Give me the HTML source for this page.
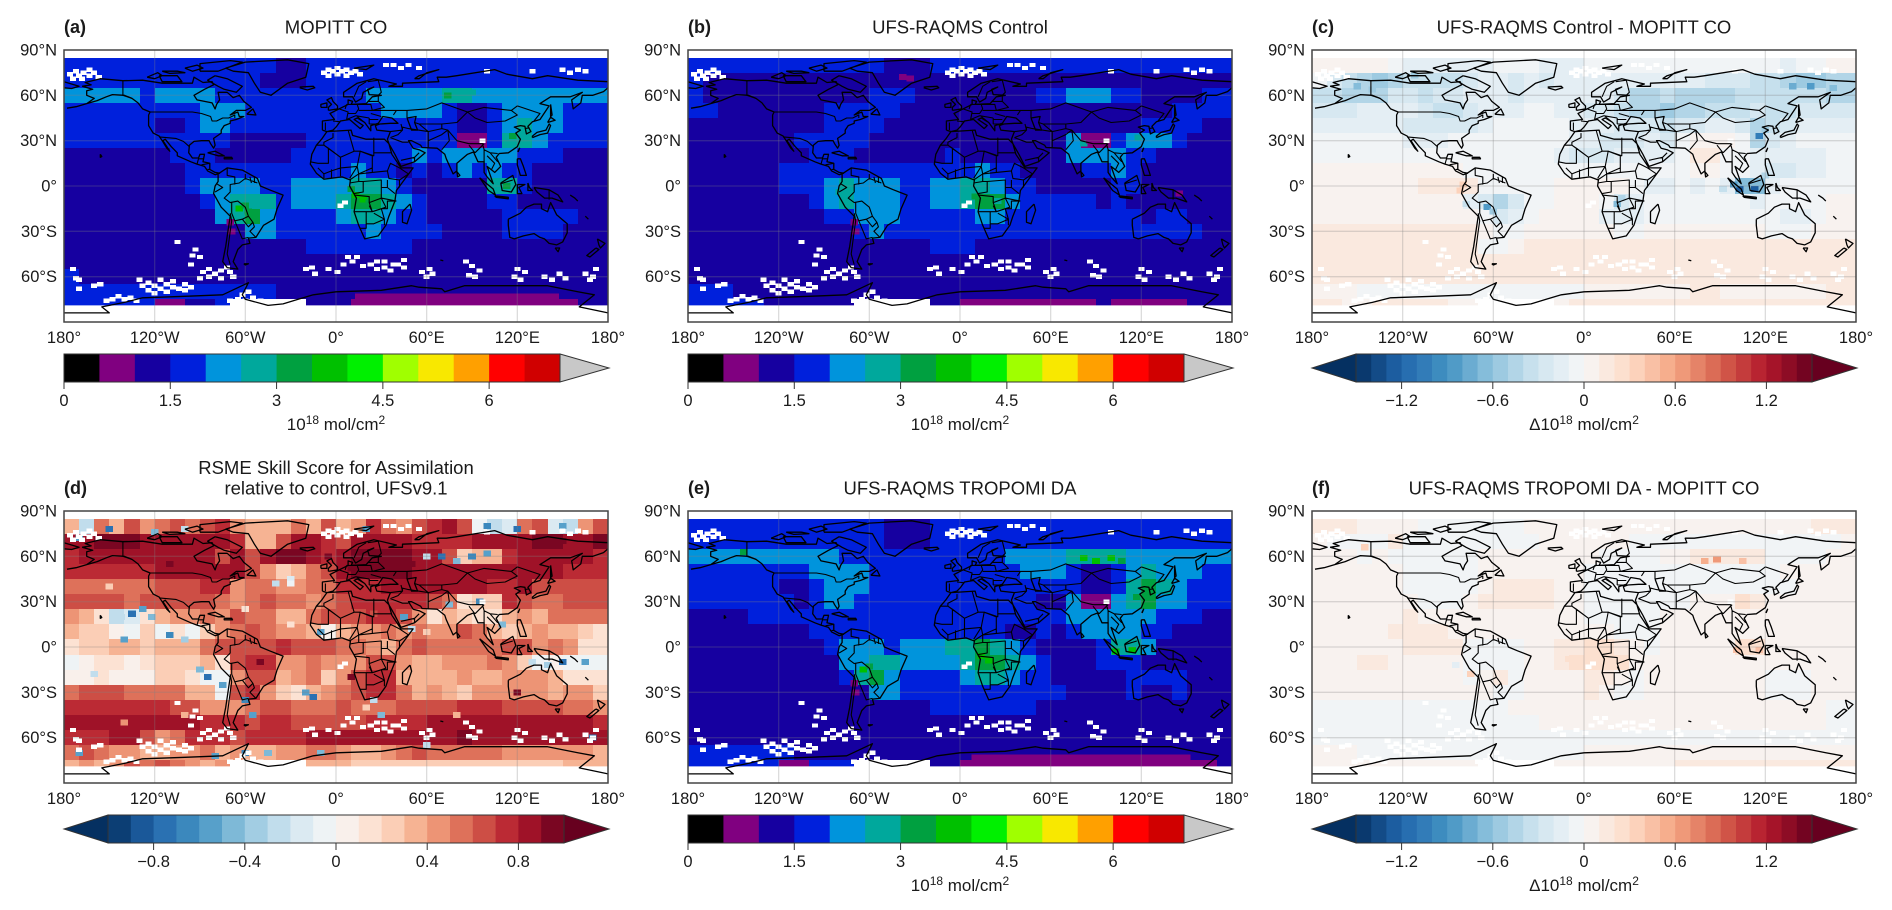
<!DOCTYPE html>
<html lang="en">
<head>
<meta charset="utf-8">
<title>CO column maps</title>
<style>
html,body{margin:0;padding:0;background:#fff;width:1892px;height:910px;overflow:hidden}
svg{display:block}
text{font-family:"Liberation Sans",sans-serif;fill:#1a1a1a}
.tick{font-size:16.5px}
.title{font-size:18.5px}
.tag{font-size:18px;font-weight:bold}
.unit{font-size:17px}
.sup{font-size:12px}
</style>
</head>
<body>
<svg id="figure" xmlns="http://www.w3.org/2000/svg" width="1892" height="910" viewBox="0 0 1892 910">
<defs id="defs"></defs>
</svg>
<script>
// ---- axes ----
const lonTicks = [-180,-120,-60,0,60,120,180];
const lonTickLabels = ["180°","120°W","60°W","0°","60°E","120°E","180°"];
const latTicks = [90,60,30,0,-30,-60];
const latTickLabels = ["90°N","60°N","30°N","0°","30°S","60°S"];
const lonCols = [-175,-165,-155,-145,-135,-125,-115,-105,-95,-85,-75,-65,-55,-45,-35,-25,-15,-5,5,15,25,35,45,55,65,75,85,95,105,115,125,135,145,155,165,175];
const latRows = [80,70,60,50,40,30,20,10,0,-10,-20,-30,-40,-50,-60,-70,-80];

// ---- colour bars ----
const coLevels = [0,5,10,15,20,25,30,35,40,45,50,55,60,65,70];
const coColors = ["#000000","#800080","#1600a0","#0020dc","#0094dc","#00a89c","#00a040","#00c000","#00f000","#a0ff00","#f8e800","#ffa000","#ff0000","#d00000"];
const coTicks = [0,1.5,3,4.5,6];
const coTickLabels = ["0","1.5","3","4.5","6"];
const diffTicks = [-1.2,-0.6,0,0.6,1.2];
const diffTickLabels = ["−1.2","−0.6","0","0.6","1.2"];
const skillTicks = [-0.8,-0.4,0,0.4,0.8];
const skillTickLabels = ["−0.8","−0.4","0","0.4","0.8"];

// ---- panel (a) MOPITT CO, 10^17 mol/cm2 ----
const gridA = [
[17,17,17,17,17,17, 17,17,17,17,17,17, 17,17,12,12,17,17, 17,17,17,17,17,17, 17,17,17,17,17,17, 17,17,17,17,17,17],
[17,17,17,17,17,17, 17,17,17,17,17,17, 17,12,12,12,17,17, 17,17,17,17,17,17, 17,17,17,17,17,17, 17,17,17,17,17,17],
[22,22,22,22,22,17, 22,22,22,22,17,17, 17,17,17,17,17,17, 17,17,22,22,22,22, 22,27,27,22,22,22, 22,22,22,22,22,22],
[17,17,17,17,17,17, 17,17,17,22,22,22, 17,17,17,17,17,17, 17,17,17,22,22,22, 22,17,12,12,17,22, 22,22,22,17,17,17],
[17,17,17,17,17,17, 12,12,17,22,22,17, 17,17,17,17,17,17, 17,17,17,17,17,17, 17,17,12,12,17,22, 27,22,22,17,17,17],
[17,17,17,17,17,17, 17,17,17,17,17,12, 12,12,12,12,17,17, 17,17,17,17,17,17, 17,17,7,7,17,27, 27,22,17,17,17,17],
[12,12,12,12,12,12, 12,17,17,17,12,12, 12,12,12,17,17,17, 17,17,17,17,17,22, 17,22,22,22,22,22, 17,17,17,12,12,12],
[12,12,12,12,12,12, 12,12,17,17,17,17, 17,17,17,17,17,17, 17,22,17,17,12,17, 12,17,22,17,22,17, 17,12,12,12,12,12],
[12,12,12,12,12,12, 12,12,17,22,22,22, 22,17,17,22,22,22, 22,27,27,22,17,12, 12,12,12,12,27,27, 17,12,12,12,12,12],
[12,12,12,12,12,12, 12,12,12,17,22,27, 27,27,17,22,22,22, 27,32,32,27,22,17, 12,12,12,12,17,17, 12,12,12,12,12,12],
[12,12,12,12,12,12, 12,12,12,12,22,27, 32,22,17,17,17,17, 22,27,27,22,17,17, 12,12,12,12,12,17, 17,17,17,17,12,12],
[12,12,12,12,12,12, 12,12,12,12,12,12, 22,22,17,17,17,17, 17,17,22,17,17,17, 17,12,12,12,12,17, 17,17,17,12,12,12],
[12,12,12,12,12,12, 12,12,12,12,12,12, 12,12,12,12,17,17, 17,17,17,17,17,12, 12,12,12,12,12,12, 12,12,12,12,12,12],
[12,12,12,12,12,12, 12,12,12,12,12,12, 12,12,12,12,12,12, 12,12,12,12,12,12, 12,12,12,12,12,12, 12,12,12,12,12,12],
[17,12,12,12,12,12, 12,12,12,12,12,12, 12,12,12,12,12,12, 12,12,12,12,12,12, 12,12,12,12,12,12, 12,12,12,12,12,12],
[17,17,17,17,17,17, 17,17,17,17,17,17, 17,17,12,12,12,12, 12,12,12,12,12,12, 12,12,12,12,12,12, 12,12,12,12,12,12],
[17,17,17,17,17,17, 7,7,12,12,17,null, null,null,null,null,12,12, 12,7,7,7,7,7, 7,7,7,7,7,7, 7,7,7,7,12,12]
];
const fineA = [[-64,-15,37],[-60,-13,32],[-58,-17,32],[13,-6,37],[18,-9,37],[22,-11,32],[10,-2,32],[113,0,32],[103,1,27],[117,33,32],[74,60,32],[90,62,27],[-70,-24,7],[-69,-30,7],[15,-73,7],[20,-73,7],[25,-73,7],[30,-73,7],[35,-73,7],[40,-73,7],[45,-73,7],[50,-73,7],[55,-73,7],[60,-73,7],[65,-73,7],[70,-73,7],[75,-73,7],[80,-73,7],[85,-73,7],[90,-73,7],[95,-73,7],[100,-73,7],[105,-73,7],[110,-73,7],[115,-73,7],[120,-73,7],[125,-73,7],[130,-73,7],[135,-73,7],[140,-73,7],[145,-73,7]];

// ---- panel (b) UFS-RAQMS Control ----
const gridB = [
[17,17,17,17,17,17, 17,17,17,17,17,17, 17,12,12,12,17,17, 17,17,17,17,17,17, 17,17,17,17,17,17, 17,17,17,17,17,17],
[17,12,12,12,12,12, 12,12,12,12,12,12, 12,12,12,12,12,12, 12,12,12,12,12,12, 12,12,12,12,12,12, 12,12,12,12,12,12],
[17,12,12,12,12,12, 12,12,12,12,12,12, 17,17,17,12,12,12, 12,12,12,12,12,17, 17,22,22,22,17,17, 12,12,12,12,17,17],
[17,17,12,12,12,12, 12,12,12,17,17,17, 17,17,12,12,12,12, 12,12,12,12,12,12, 12,12,12,12,12,12, 12,12,17,17,17,17],
[12,12,12,12,12,12, 12,12,12,17,17,17, 17,12,12,12,12,12, 12,12,12,12,12,12, 12,12,12,12,12,12, 17,17,17,17,12,12],
[12,12,12,12,12,12, 12,17,17,17,17,17, 12,12,12,12,12,12, 12,12,12,12,12,12, 12,22,7,7,17,22, 22,22,17,12,12,12],
[12,12,12,12,12,12, 12,12,17,17,17,12, 12,12,12,12,12,17, 12,12,12,12,12,12, 12,22,22,22,22,17, 17,12,12,12,12,12],
[12,12,12,12,12,12, 17,17,17,17,17,17, 17,17,17,17,17,17, 17,22,17,17,12,12, 12,12,17,17,22,17, 12,12,12,12,12,12],
[12,12,12,12,12,12, 17,17,17,22,27,22, 22,22,17,17,22,22, 27,27,22,17,17,12, 12,12,12,12,17,17, 12,12,12,12,12,12],
[12,12,12,12,12,12, 12,12,17,22,27,22, 22,22,17,17,22,22, 27,32,32,22,17,17, 17,17,17,12,17,12, 12,12,12,12,12,12],
[12,12,12,12,12,12, 12,12,12,17,17,22, 22,22,17,17,17,17, 17,22,22,17,17,17, 17,17,17,17,17,17, 12,17,17,12,12,12],
[12,12,12,12,12,12, 12,12,12,12,12,17, 22,17,17,17,17,17, 17,17,17,17,17,17, 17,17,17,17,17,17, 17,17,17,17,12,12],
[12,12,12,12,12,12, 12,12,12,12,12,12, 12,12,12,12,17,17, 17,12,12,12,12,12, 12,12,12,12,12,12, 12,12,12,12,12,12],
[12,12,12,12,12,12, 12,12,12,12,12,12, 12,12,12,12,12,12, 12,12,12,12,12,12, 12,12,12,12,12,12, 12,12,12,12,12,12],
[12,12,12,12,12,12, 12,12,12,12,12,12, 12,12,12,12,12,12, 12,12,12,12,12,12, 12,12,12,12,12,12, 12,12,12,12,12,12],
[17,17,17,12,12,12, 12,12,12,12,12,12, 12,12,12,12,12,12, 12,12,12,12,12,12, 12,12,12,12,12,12, 12,12,12,12,12,12],
[17,17,17,17,17,12, 12,12,12,12,12,null, null,null,null,null,12,12, 7,7,7,7,7,7, 7,7,7,12,7,7, 7,7,7,12,12,12]
];
const fineB = [[10,-7,32],[17,-9,32],[5,-5,27],[-80,-4,27],[-76,-7,27],[25,-10,27],[82,28,27],[118,32,27],[86,30,7],[-70,-24,7],[-69,-30,7],[145,-5,7],[-38,72,7],[-33,71,7]];

// ---- panel (c) Control minus MOPITT, 0.01 x 10^18 mol/cm2 ----
const gridC = [
[5,5,5,5,5,-5, -15,-15,-15,-15,-15,-15, -10,-10,-10,-15,-15,-15, -10,-10,-10,-10,-10,-10, -10,-10,-5,-5,-10,-10, -10,-15,-10,-5,5,5],
[-10,-25,-40,-50,-55,-45, -35,-35,-40,-35,-25,-20, -20,-30,-20,-25,-20,-15, -15,-15,-20,-15,-15,-20, -20,-20,-30,-25,-30,-40, -40,-50,-60,-55,-45,-50],
[-35,-40,-45,-45,-45,-30, -30,-35,-30,-30,-20,-15, -20,-30,-20,-15,-15,-15, -20,-20,-25,-45,-45,-40, -45,-45,-50,-45,-40,-40, -40,-40,-35,-35,-45,-45],
[-30,-30,-25,-20,-20,-20, -20,-25,-35,-40,-25,-20, -15,-15,-10,-10,-15,-15, -25,-25,-35,-45,-50,-55, -50,-45,-40,-35,-35,-30, -35,-35,-30,-25,-30,-30],
[-15,-15,-15,-15,-15,-15, -25,-25,-30,-30,-25,-15, -5,-5,-5,-10,-10,-15, -15,-20,-25,-30,-30,-35, -30,-25,-15,-15,-25,-45, -35,-25,-15,-15,-15,-15],
[-10,-10,-10,-10,-10,-10, -15,-15,-15,-10,-5,-5, -5,-5,-5,-5,-10,-15, -15,-25,-25,-25,-20,-25, -10,0,5,5,-10,-50, -25,-15,-10,-10,-10,-10],
[-5,-5,-5,-5,-5,-5, -5,-5,-5,-5,-5,-5, -5,-5,-5,-5,-15,-25, -25,-25,-20,-15,-15,-15, -5,10,10,-5,-10,-15, -15,-15,-15,-15,-10,-10],
[0,0,0,0,0,0, 3,5,5,0,-5,-5, -5,-5,-5,-5,-5,-10, -10,-10,-10,-10,-5,-10, -5,5,5,-5,-10,-15, -25,-25,-20,-15,-10,-10],
[3,3,3,5,5,5, 8,10,12,15,10,-5, -10,-5,-3,-3,5,5, 5,5,5,-10,-15,-15, -5,-15,-10,-15,-65,-70, -15,-10,-10,-10,-5,-5],
[3,5,5,5,5,5, 8,8,8,8,-15,-25, -45,-25,-5,-3,5,5, 5,-5,-25,-20,-5,-5, -5,-10,-10,-8,-10,-15, -5,-5,-3,-3,0,0],
[8,8,8,8,8,8, 8,8,8,8,8,-10, -30,-20,-3,0,3,3, 3,-15,-20,-20,-5,-3, -3,-3,-3,-5,-3,-3, -10,-15,-15,-5,3,3],
[10,10,10,10,10,10, 10,10,10,10,10,5, -10,-10,3,5,8,8, 8,8,-5,-5,5,8, 8,8,5,5,5,3, -8,-10,-10,3,8,8],
[10,10,10,10,10,10, 10,10,10,10,10,-3, -3,8,10,10,10,12, 12,12,12,12,12,12, 12,12,12,12,12,12, 12,12,12,12,12,12],
[12,12,12,12,12,12, 12,12,12,12,12,12, 12,15,15,15,15,15, 15,15,15,15,15,15, 15,15,15,15,15,15, 15,15,15,15,15,15],
[15,15,15,15,15,15, 15,15,15,15,15,15, 15,15,15,15,15,15, 15,15,15,15,15,15, 15,15,15,15,15,15, 15,15,15,15,15,15],
[5,5,5,-3,-3,-3, -3,-3,-3,-5,-5,-5, -5,-3,-3,-3,-3,-3, 3,3,5,5,8,8, 8,10,10,8,8,8, 8,8,8,8,10,10],
[12,12,8,8,10,10, 10,10,10,8,8,null, null,null,null,null,8,10, 15,15,15,15,15,15, 15,15,15,15,15,15, 15,15,15,15,10,10]
];
const fineC = [[-64,-14,-90],[-60,-17,-60],[-57,-13,-50],[103,-2,-125],[99,1,-90],[113,-2,-125],[118,-3,-70],[116,33,-105],[120,37,-60],[22,-12,-65],[25,-8,-50],[-82,-3,35],[-80,1,30],[138,66,-75],[150,66,-85],[165,65,-70],[-150,66,-65],[-140,64,-60],[-112,73,-55],[-78,-12,-40],[120,7,-45],[92,-2,-35]];

// ---- panel (d) RMSE skill score, 0.01 units ----
const gridD = [
[30,-30,50,30,60,40, 50,60,50,60,70,40, 30,30,30,50,30,60, 30,40,70,50,40,60, 70,80,60,-10,-30,-20, 50,60,-20,-30,40,60],
[85,85,90,90,90,85, 85,85,80,85,85,70, 35,30,60,80,80,70, 60,85,85,80,80,70, 70,70,70,80,85,85, 85,90,90,85,85,90],
[70,80,85,85,85,85, 85,85,85,80,60,80, 60,85,90,90,85,75, 85,90,90,90,90,85, 85,60,20,30,30,75, 80,85,85,85,80,75],
[70,70,70,70,70,75, 80,80,80,85,85,85, 60,40,20,30,50,60, 85,90,90,90,90,85, 85,85,85,85,85,85, 85,85,80,70,70,70],
[55,50,50,50,55,55, 65,65,65,70,75,45, 50,50,40,45,50,55, 70,75,75,80,85,85, 85,85,85,80,75,75, 85,60,60,60,60,60],
[60,60,60,60,55,60, 60,65,60,65,50,45, 50,60,55,50,45,50, 65,70,70,70,75,70, 60,55,10,25,25,70, 65,50,50,60,60,60],
[40,30,10,-30,-20,10, 30,40,40,50,40,60, 50,55,35,30,50,65, 65,65,70,75,65,45, 10,30,20,10,10,30, 45,35,50,50,55,50],
[30,20,20,5,-5,20, -10,10,-10,25,40,55, 60,50,40,45,35,0, 30,40,45,50,45,50, 40,45,60,50,35,25, 35,40,35,30,20,10],
[10,25,25,30,30,25, 30,35,30,55,60,60, 60,65,70,65,65,60, 50,50,45,35,50,60, 55,55,55,55,50,60, 60,40,50,40,10,10],
[-5,5,10,15,5,10, 25,20,20,30,10,60, 70,70,40,40,50,45, 40,45,60,60,45,35, 35,40,40,45,55,40, 25,-5,0,-5,-5,-5],
[0,5,10,5,0,5, 25,25,10,-10,-10,40, 60,65,35,45,50,20, 40,65,70,70,35,30, 30,35,40,30,35,40, 45,40,35,15,15,10],
[55,60,60,60,55,50, 50,50,35,35,-5,60, 70,40,25,10,35,40, 50,65,70,70,50,35, 40,30,25,40,40,40, 40,40,35,40,40,20],
[70,70,75,70,70,70, 70,65,65,45,45,40, 55,65,60,50,55,55, 60,55,50,55,60,60, 60,65,70,70,70,65, 65,65,60,55,50,40],
[80,80,80,80,85,85, 80,85,80,75,75,70, 60,75,70,65,60,60, 65,60,70,70,70,75, 80,80,85,85,85,85, 85,85,85,80,80,70],
[75,70,75,80,85,60, 40,50,70,75,70,65, 70,70,75,75,80,80, 80,80,85,80,85,85, 85,85,90,85,85,80, 80,85,85,80,80,80],
[55,60,55,45,40,30, 30,40,40,50,30,40, 35,30,45,40,50,50, 45,35,35,40,50,60, 55,50,55,55,50,40, 40,40,45,45,40,35],
[30,40,35,40,60,50, 60,50,40,30,40,null, null,null,null,null,30,35, 30,25,25,25,20,20, 20,20,25,25,25,25, 25,25,25,30,30,30]
];
const fineD = [[-135,22,-80],[-128,25,-60],[-122,20,-50],[-142,20,-30],[-110,8,-70],[-100,5,-40],[-140,5,-60],[-160,-18,-30],[-85,-20,-80],[-75,-25,-60],[-90,-15,-50],[-55,-45,-60],[-60,-35,-70],[-20,-30,-60],[-15,-33,-80],[90,60,-70],[70,60,-80],[80,57,-50],[100,62,-60],[60,60,-30],[-40,42,-30],[-30,45,-20],[-30,42,-10],[45,20,-60],[50,12,-30],[75,28,-50],[95,30,-70],[110,15,-50],[150,-10,-80],[165,-10,-60],[140,-12,-40],[130,-10,-30],[-150,78,-80],[-120,76,-50],[-100,78,-30],[20,78,-60],[100,80,-70],[120,78,-80],[150,80,-60],[-170,72,-60],[25,-35,-30],[30,-45,-50],[-170,-70,-60],[-60,-70,-70],[-10,-70,-50],[60,-65,-30],[-10,10,-60],[170,-60,-80],[-5,60,95],[10,52,95],[30,55,98],[50,55,95],[150,70,98],[-110,55,92],[25,22,60],[-45,-70,-50],[-80,-72,-60],[-150,40,20],[-60,25,10],[-30,15,15],[20,-40,20],[80,-45,30],[-140,-50,40],[-100,-45,30],[120,-30,90],[60,10,20],[10,-20,90],[-50,-10,90]];

// ---- panel (e) TROPOMI DA ----
const gridE = [
[17,17,17,17,17,17, 17,17,17,17,17,17, 17,12,12,12,17,17, 17,17,17,17,17,17, 17,17,17,17,17,17, 17,17,17,17,17,17],
[17,17,17,17,17,17, 17,17,17,17,17,17, 17,12,12,12,17,17, 17,17,17,17,17,17, 17,17,17,17,17,17, 17,17,17,17,17,17],
[22,22,22,22,22,22, 22,22,22,22,17,17, 17,17,17,17,17,17, 17,17,17,22,22,22, 22,27,27,27,27,22, 22,22,22,22,22,22],
[17,17,17,17,17,17, 17,17,22,22,22,22, 17,17,17,17,17,17, 17,17,17,17,22,22, 22,17,12,12,17,22, 27,22,22,22,17,17],
[17,17,17,17,17,17, 12,12,17,22,22,22, 17,17,17,17,17,17, 17,17,17,17,17,17, 17,17,12,12,17,27, 32,27,22,17,17,17],
[17,17,17,17,17,17, 17,12,17,22,22,17, 17,17,17,17,17,17, 17,17,17,17,17,12, 12,22,7,7,22,27, 32,22,22,17,17,17],
[12,12,12,12,17,17, 17,17,17,17,17,17, 17,17,17,17,17,17, 17,17,17,17,17,17, 17,22,22,22,22,22, 22,17,17,17,12,12],
[12,12,12,12,12,12, 12,12,17,17,17,17, 17,17,17,17,17,17, 17,17,17,12,12,17, 12,17,22,22,22,22, 17,17,12,12,12,12],
[12,12,12,12,12,12, 12,12,12,17,22,22, 22,17,22,22,22,27, 27,32,27,22,17,12, 12,12,12,17,27,27, 22,12,12,12,12,12],
[12,12,12,12,12,12, 12,12,12,12,22,22, 27,27,22,22,22,22, 27,32,32,27,22,17, 12,12,12,17,17,17, 12,12,12,12,12,12],
[12,12,12,12,12,12, 12,12,12,12,17,27, 32,22,17,17,17,17, 22,27,27,22,17,17, 12,12,12,12,12,17, 17,17,17,12,12,12],
[12,12,12,12,12,12, 12,12,12,12,12,12, 22,22,17,17,17,17, 17,17,17,17,17,17, 17,12,12,12,12,17, 12,12,17,12,12,12],
[12,12,12,12,12,12, 12,12,12,12,12,12, 12,12,12,12,17,17, 17,17,17,17,17,12, 12,12,12,12,12,12, 12,12,12,12,12,12],
[12,12,12,12,12,12, 12,12,12,12,12,12, 12,12,12,12,12,12, 12,12,12,12,12,12, 12,12,12,12,12,12, 12,12,12,12,12,12],
[12,12,12,12,12,12, 12,12,12,12,12,12, 12,12,12,12,12,12, 12,12,12,12,12,12, 12,12,12,12,12,12, 12,12,12,12,12,12],
[17,17,17,17,17,17, 17,12,12,12,12,12, 12,12,12,12,12,12, 12,12,12,12,12,12, 12,12,12,12,12,12, 12,12,12,12,12,12],
[17,17,17,17,17,17, 7,7,17,17,17,null, null,null,null,null,12,12, 7,7,7,7,7,7, 7,7,7,7,7,7, 7,7,7,7,7,12]
];
const fineE = [[-64,-15,37],[-60,-13,32],[14,-6,37],[19,-9,37],[103,-3,37],[114,-2,37],[117,33,32],[-143,63,32],[82,59,37],[90,57,37],[100,59,37],[107,57,32],[-70,-24,7],[-69,-30,7],[10,-73,7],[15,-73,7],[20,-73,7],[25,-73,7],[30,-73,7],[35,-73,7],[40,-73,7],[45,-73,7],[50,-73,7],[55,-73,7],[60,-73,7],[65,-73,7],[70,-73,7],[75,-73,7],[80,-73,7],[85,-73,7],[90,-73,7],[95,-73,7],[100,-73,7],[105,-73,7],[110,-73,7],[115,-73,7],[120,-73,7],[125,-73,7],[130,-73,7],[135,-73,7],[140,-73,7],[145,-73,7],[150,-73,7]];

// ---- panel (f) TROPOMI DA minus MOPITT, 0.01 x 10^18 mol/cm2 ----
const gridF = [
[12,12,10,8,8,5, 3,-3,-3,-3,-5,-5, -5,-5,3,3,5,5, 5,5,5,5,5,5, 5,5,5,5,5,5, 5,5,8,10,12,12],
[5,-3,-3,-3,-3,10, -3,-3,-3,-3,-3,-3, -5,-5,-3,5,5,5, 5,5,5,-3,-3,-3, -3,-3,-3,-3,-3,-3, -3,-3,-3,-3,-3,3],
[5,5,3,-3,5,-3, -3,-3,-3,-3,-3,3, 5,5,5,8,8,5, 5,-3,-3,-3,-3,5, 5,12,18,18,18,10, -3,-3,-3,-3,5,5],
[8,8,8,8,8,8, -3,-3,-3,-3,-3,3, 8,8,8,8,8,5, -3,-3,-3,-3,-3,-3, -3,-3,-3,-3,-3,-3, -3,3,8,8,8,5],
[8,8,8,8,8,5, -5,-5,-5,-5,-3,8, 10,10,10,10,8,5, -3,-3,-3,-3,-3,-3, -3,-3,-3,-3,-3,-3, -3,-3,8,8,8,5],
[5,5,5,5,8,8, 5,-5,-5,-3,8,10, 10,10,10,10,8,8, -5,-5,-5,-5,-5,-5, -5,3,3,5,25,10, 8,8,8,8,8,5],
[5,5,5,8,8,8, 10,8,5,5,8,8, 8,8,8,8,8,8, -5,-5,-5,-5,-5,8, 8,3,8,8,3,5, 8,8,8,8,8,8],
[5,5,8,8,8,10, 10,10,10,8,5,8, 8,8,8,8,8,5, 5,3,-3,-3,-3,5, 5,8,8,8,3,8, 8,8,8,8,5,5],
[5,5,8,8,8,8, 10,10,10,12,-3,-3, -3,-3,8,8,10,15, 20,25,15,3,-3,5, 8,5,5,8,20,25, 8,8,5,5,5,5],
[8,8,8,10,10,8, 8,5,5,3,-5,-3, -3,-3,5,8,15,25, 25,20,20,3,3,5, 5,5,5,5,8,8, 5,3,3,5,5,5],
[8,8,8,8,8,8, 8,8,8,5,-3,5, 10,-3,8,8,8,8, 12,12,8,-3,5,8, 8,8,8,5,5,5, -5,-5,-5,5,5,5],
[5,5,5,5,5,5, 5,5,5,5,5,3, -3,-3,5,8,8,8, 10,8,-3,-3,5,8, 8,8,8,5,5,5, -5,-5,-5,3,5,5],
[-3,-3,-3,-3,-3,-3, -3,-3,-3,-3,-3,-3, -3,3,3,3,5,5, 5,5,5,5,5,5, 3,3,3,3,3,3, 3,3,3,3,-3,-3],
[-3,-3,-3,-3,-3,-3, -3,-3,-3,-3,-3,-3, -3,-3,-3,3,3,3, 3,3,3,3,3,3, 3,3,3,3,3,3, 3,3,3,3,-3,-3],
[-3,-3,-3,-3,-3,-3, -3,-3,-3,-3,-3,-3, -3,-3,-3,-3,-3,-3, -3,-3,-3,-3,-3,-3, -3,-3,-3,-3,-3,-3, -3,-3,-3,-3,-3,-3],
[3,3,3,-3,-3,-3, -3,-3,-3,-3,-3,-3, -3,-3,-3,-3,-3,-3, 3,3,3,3,5,5, 8,8,8,8,8,8, 8,8,8,8,8,8],
[8,8,5,5,5,5, 5,5,5,5,5,null, null,null,null,null,5,5, 8,8,8,8,8,8, 10,10,10,10,10,10, 10,10,10,10,10,10]
];
const fineF = [[80,57,55],[88,58,60],[105,57,40],[116,-2,42],[101,-2,45],[103,32,25],[-145,66,30],[-75,-18,30],[-85,-12,-15],[-10,-8,25]];

// ---- retrieval gaps shared by every panel (lon, lat) ----
const missingCells = [[-176,74],[-172,76],[-170,73],[-167,75],[-163,77],[-163,73],[-160,75],[-157,72],[-168,71],[-174,71],[-8,75],[-5,77],[-5,73],[-2,76],[1,78],[1,74],[4,76],[7,77],[7,73],[10,75],[13,76],[16,74],[33,80],[38,80],[43,78],[48,80],[55,78],[100,76],[130,76],[150,77],[155,75],[160,77],[165,76],
[-130,-62],[-128,-66],[-124,-64],[-124,-69],[-120,-66],[-116,-62],[-116,-68],[-112,-65],[-108,-63],[-108,-67],[-104,-68],[-100,-65],[-100,-69],[-96,-67],[-120,-71],[-112,-70],[-90,-61],[-88,-57],[-84,-55],[-84,-60],[-80,-58],[-76,-56],[-76,-61],[-72,-54],[-70,-57],[-68,-60],[-160,-66],[-156,-65],[-170,-62],[-148,-75],[-144,-73],[-140,-75],[-136,-74],[-132,-76],[-152,-76],[-174,-55],[-172,-61],[-93,-42],[-95,-46],[-105,-37],[-90,-47],[-96,-52],[-20,-55],[-14,-58],[-16,-54],[-5,-55],[1,-57],[5,-52],[8,-47],[11,-50],[14,-47],[18,-53],[23,-52],[27,-55],[27,-50],[32,-50],[32,-54],[36,-56],[38,-52],[41,-52],[45,-54],[45,-49],[57,-57],[62,-55],[60,-60],[64,-58],[86,-50],[90,-53],[88,-59],[92,-60],[95,-56],[120,-55],[125,-57],[118,-60],[122,-62],[138,-60],[143,-62],[148,-58],[152,-61],[165,-58],[170,-60],[172,-55],[168,-62],[3,-13],[6,-11],[97,30],[-70,-76],[-65,-75],[-60,-76],[-55,-74],[-50,-76],[-45,-77],[-170,-68],[-62,-72],[-58,-70]];

// ---- geography (lon,lat pairs) ----
const coastlines = [
[-168,66,-162,67,-166,68.5,-156,71,-141,69.7,-128,70,-115,68,-108,68,-95,68,-94,72,-88,68.5,-82,69,-81,67,-87,64,-94,60,-92,57,-82,55,-80,51,-79,54,-77,57,-78,62,-72,62,-68,58.5,-64,60,-61,56,-56,52,-60,50,-66,50,-70,47,-65,49,-64,46,-61,46,-66,44,-70,43,-70,41.5,-74,40,-76,37,-76,35,-81,31.5,-80,27,-81,25,-83,28,-84,30,-89,30,-94,29.5,-97,27,-97.5,22,-95,18.5,-91,18.5,-90,21,-87,21,-88,16,-83.5,15,-83.5,11,-80,9,-77,8.5,-80,7.5,-85,10,-87,13,-92,14.5,-96,16,-105,20,-105,22,-109,26,-113,31,-114.5,30,-110,23,-112,25,-115,30,-117,33,-121,35,-124,40,-124,47,-123,49,-128,51,-131,55,-135,58,-140,60,-148,60.5,-152,59,-158,56.5,-165,54.5,-160,58,-165,60,-165,63,-161,64,-168,66],
[-165,54.5,-172,52.5,-178,51.5],
[-80,73,-72,71,-62,66,-66,62,-74,64,-78,66,-85,70,-80,73],
[-117,73,-105,73,-102,69,-115,69,-117,73],
[-90,76,-78,76,-62,82,-70,83,-90,81,-90,76],
[-125,72,-118,75,-115,73,-120,71,-125,72],
[-115,76,-105,76,-100,75,-110,74.5,-115,76],
[-100,78,-92,80,-88,78,-95,76,-100,78],
[-59,47.5,-53,47,-55,51,-59,47.5],
[-85,22,-80,23,-74,20,-78,20,-85,22],
[-74,19,-69,19,-68.5,18,-74,18,-74,19],
[-156,21,-155,19.5,-156,19,-156,21],
[-73,78,-60,82,-32,83.5,-18,81,-20,72,-32,68,-43,60,-50,62,-54,68,-58,75,-68,76,-73,78],
[-24,65.5,-15,66,-14,65,-19,63.5,-24,65],
[-78,8,-72,12,-62,10.5,-52,5,-50,0,-44,-2.5,-35,-6,-39,-15,-41,-22,-48,-26,-53,-34,-58,-34.5,-57,-38,-62,-39,-65,-42,-68,-50,-65,-55,-72,-54,-75,-50,-73,-40,-70,-20,-76,-14,-81,-5,-80,0,-78,3,-78,8],
[-61,-51.5,-58,-51.5,-60,-52.3,-61,-51.5],
[-6,36,10,37,11,33.5,20,31,32,31,35,28,37,21,43,12,51,12,40,-3,39,-10,35,-20,33,-26,28,-33,19,-35,15,-26,12,-17,13.5,-8,9,0,9.5,4,4,6,-8,4.5,-13,8.5,-17,14.5,-16,21,-13,27,-9.5,31,-6,36],
[49,-12,50,-16,47,-25,44,-24,44,-17,49,-12],
[-9,37,-9,43,-1,44,-4,48,2,51,8,54,8,57,11,56,10,54,20,54.5,24,59,30,60,22,60.5,21,64,25,65.5,18,62,17,58,13,55.5,11,59,5,59,5,62,14,68,25,71,40,67.5,35,66,44,66,44,68,68,69,67,72,73,72,80,73,105,77,113,74,130,71,140,73,160,70,180,69],
[-180,69,-170,66,-175,64.5,-180,65],
[180,65,177,62.5,170,60,163,60,162,55,157,51,156,57,163,62,155,59,142,59,135,54.5,141,53,135,44,130,42.5,127,39.5,129,36,126,34.5,125,39.5,122,40,118,39,122,37,119,35,122,31,120,26,114,22,108,21.5,106,19,109,13,105,9,100,13,104,1.5,100,6,98,9,98,16,94,16,91,22.5,87,21,80,15,80,10,77.5,8,73,18,72,21,67,25,57,25.5,56,27,50,30,48,30,51,25,55,24,59,22,52,16,43,13,39,21,35,28,34,31,36,36,27,37,26,40,29,41,36,41.5,41,41.5,37,45,31,46,28,41.5,23,40,23,36.5,19,42,14,45,12,44,18,40,16,38,9,44,3,43,0,39,-2,37,-6,36,-9,37],
[47,45,53,46,52,42,54,37,50,37,47,45],
[130,32,135,34,140,35,142,40,141,41,139,37,133,35.5,130,33,130,32],
[140,42,145,43.5,142,45.5,140,42],
[142,54,143,47,142,46,142,54],
[-5,50,1,51,1,53,-2,56,-3,58.5,-6,57,-3,54,-5,52,-5,50],
[-10,52,-6,52,-6,55,-10,54,-10,52],
[12,78,25,80,20,77,12,78],
[52,71,55,73,68,77,60,75,55,71,52,71],
[80,9.5,82,7,80.5,6,80,9.5],
[120.5,22.5,121.5,25,120.5,23,120.5,22.5],
[120,18,122,18,124,13,126,7,122,7,120,14,120,18],
[109,2,117,7,119,1,116,-4,110,-3,109,2],
[95,5.5,104,-2,105.5,-6,101,-3,95,5.5],
[105,-6.5,114,-7.5,114,-8.5,106,-7.5,105,-6.5],
[120,1,125,1,121,-1,123,-5,120,-5,120,1],
[127,2,128,-1,130,-3,127,-3,127,2],
[131,-1,141,-2.5,147,-6,150,-10.5,143,-8,138,-8,133,-4,131,-1],
[114,-22,122,-18,126,-14,131,-12,136,-12,136,-15,140,-17,142,-11,146,-19,153,-25,153,-31,150,-37,146,-39,141,-38,138,-35,135,-34,131,-31.5,124,-33,118,-35,115,-34,114,-26,114,-22],
[145,-41,148,-41,147,-43.5,145,-41],
[173,-35,178,-38,175,-41,174,-39,173,-35],
[172,-41,174,-42,168,-47,166,-46,172,-41],
[155,-6,158,-8,160,-10],
[165,-20,167,-22],
[69,-49,71,-49.5],
[-180,-84,-150,-84,-155,-80,-140,-77,-128,-74,-100,-73,-75,-72,-58,-64,-62,-72,-60,-75,-45,-79,-35,-78,-25,-75,-15,-72,0,-70,30,-69,50,-66,55,-67,70,-68,72,-70,85,-66,100,-66,120,-66,140,-66,160,-70,171,-72,161,-80,180,-84]
];
const borders = [
[-123,49,-95,49,-89,48,-83,46,-82,43,-79,43,-75,45,-71,45,-67,47,-67,45],
[-141,69.7,-141,60,-135,58],
[-117,32.5,-106,31.5,-101,29.5,-97,26],
[-92,14.5,-91,18,-88,18],[-89,14,-83.5,15],[-85,11,-83.5,11],
[-52,2,-60,5,-64,2,-70,1,-70,-4,-74,-8,-70,-11,-65,-10,-60,-14,-58,-20,-55,-24,-54,-27,-57,-30,-53,-34],
[-70,-18,-69,-23,-70,-30,-72,-45,-70,-52],
[-69,-11,-69,-18,-67,-23,-62,-22,-58,-20],
[-62,-22,-58,-27,-55,-24],[-67,-23,-62,-35,-58,-34],
[-80,-4,-75,-1,-79,1.5],[-72,12,-72,7,-67,6,-67,1],
[-60,8,-60,5],[-57,6,-56,2],[-54,6,-54,2],
[-2,35,-2,32,-8,29,-8,27,-13,27],
[-8,27,3,19,12,23,10,30,8,37],
[25,32,25,20,16,23,12,23],[25,22,37,22],
[16,23,24,20,24,12,15,8,14,13,16,23],[24,20,24,9],
[3,12,14,13],[-12,15,-5,15,-5,25,-8,27],[-5,25,3,19,3,12],[-17,16,-12,15],
[3,6.5,3,12],[14,13,9,5],
[-8,8,-3,10,3,12],[-3,5,-3,11],[-12,12,-8,8,-8,5],
[34,10,36,15,42,12,48,8,42,4,35,5,34,10],[24,9,34,10],[42,-1,42,4],[34,4,34,-1,39,-5],
[30,-1,30,-8,40,-10],[34,-1,30,-1],
[12,-5,18,-4,18,3,30,4,30,-8,22,-11,22,-7,12,-6],
[12,-17,24,-17,22,-11],[22,-13,24,-17,33,-14,30,-8],
[20,-17,20,-28,16,-28],[20,-25,25,-25,32,-22,25,-18],
[40,-10,34,-10,34,-15,30,-15,32,-22,32,-26],
[15,8,24,9],[15,3,18,3],[9,4,15,8],[9,2,15,3],[15,3,15,8],
[-2,43,3,42.5],[-7,42,-7,37],[2,51,8,49,7,44],[6,51,7,54],[7,54,14,54,15,51,13,48,8,48],
[14,54,23,54,24,50,15,50],[24,50,40,50,38,47],[23,48,30,46],
[12,59,15,66,20,69],[21,69,28,70,30,62,28,60],[28,60,28,56,21,56],[28,56,32,52,24,50],
[7,44,13,46.5],[13,46.5,22,45],[14,46,19,42],[22,45,22,41],[22,44,28,44],[22,41,26,41],
[36,36,44,37,43,41],[44,37,44,39,48,38],[36,32,44,29,48,29],[36,32,41,34,44,37],
[43,17,52,19,55,22],[52,19,52,16],
[47,50,60,51,70,55,87,49,80,42,70,41,55,41,52,42],[37,50,47,50,47,45],
[87,49,98,52,116,50,120,47,112,43,100,42,92,45,87,49],
[120,53,135,48,131,43],[116,50,120,53],
[74,37,80,30,88,28,97,28,98,24,102,22,107,21.5],
[61,25,61,30,70,34,74,37,75,30,70,24],[48,38,61,36,61,30],[61,36,70,38,74,37],[55,41,61,36],[70,41,70,38],
[92,22,98,28],[98,24,98,16],[100,20,105,15,103,11],[102,22,107,16],[125,38,128,38.5],
[141,-2.5,141,-9],[88,27,92,22],[117,4,109,1.5]
];

// ---- panels ----
const panelIds = ["a","b","c","d","e","f"];
const panelNames = ["mopitt-co","control","control-minus-mopitt","skill-score","tropomi-da","tropomi-da-minus-mopitt"];
const panelTitles = [["MOPITT CO"],["UFS-RAQMS Control"],["UFS-RAQMS Control - MOPITT CO"],["RSME Skill Score for Assimilation","relative to control, UFSv9.1"],["UFS-RAQMS TROPOMI DA"],["UFS-RAQMS TROPOMI DA - MOPITT CO"]];
const panelGrids = [gridA,gridB,gridC,gridD,gridE,gridF];
const panelFine = [fineA,fineB,fineC,fineD,fineE,fineF];
const panelKinds = ["co","co","diff","skill","co","diff"];

// ---- layout ----
const MAP_W = 544, MAP_H = 272;
const panelLefts = [64,688,1312];
const panelTops = [50,511];
const LAT_DATA_TOP = 85, LAT_DATA_BOTTOM = -79;
const svg = document.getElementById('figure');
const defs = document.getElementById('defs');
const NS = 'http://www.w3.org/2000/svg';

function make(tag, attrs, parent, text) {
  const e = document.createElementNS(NS, tag);
  for (const k in attrs) e.setAttribute(k, attrs[k]);
  if (text !== undefined) e.textContent = text;
  parent.appendChild(e);
  return e;
}
function hex(c){return [parseInt(c.slice(1,3),16),parseInt(c.slice(3,5),16),parseInt(c.slice(5,7),16)];}
const rdbuStops = ["#053061","#2166ac","#4393c3","#92c5de","#d1e5f0","#f7f7f7","#fddbc7","#f4a582","#d6604d","#b2182b","#67001f"];
function rdbu(t){
  const p = Math.max(0,Math.min(1,(t+1)/2))*10;
  const i = Math.min(9,Math.floor(p));
  const a = hex(rdbuStops[i]), b = hex(rdbuStops[i+1]), f = p-i;
  return 'rgb('+a.map((v,j)=>Math.round(v+(b[j]-v)*f)).join(',')+')';
}
function coColor(v){
  return coColors[Math.max(0,Math.min(coColors.length-1,Math.floor(v/5)))];
}
function binned(v, range, bins){
  const w = 2*range/bins;
  const b = Math.floor(v/w);
  return rdbu(((b+0.5)*w)/range);
}
function colorFor(kind, v){
  if (kind==='co') return coColor(v);
  if (kind==='diff') return binned(v,150,30);
  return binned(v,100,20);
}
function linePath(pts, xs, ys){
  let d='';
  for (let i=0;i<pts.length;i+=2) d+=(i?'L':'M')+xs(pts[i]).toFixed(1)+' '+ys(pts[i+1]).toFixed(1);
  return d;
}

panelIds.forEach(function(id, idx){
  const left = panelLefts[idx%3];
  const top = panelTops[Math.floor(idx/3)];
  const xs = lon => left+(lon+180)/360*MAP_W;
  const ys = lat => top+(90-lat)/180*MAP_H;
  const kind = panelKinds[idx];

  const g = make('g',{},svg);
  
  

  const clip = make('clipPath',{id:'clip-'+id},defs);
  make('rect',{x:left,y:ys(LAT_DATA_TOP),width:MAP_W,height:ys(LAT_DATA_BOTTOM)-ys(LAT_DATA_TOP)},clip);

  const tag = make('text',{x:left,y:top-17,'class':'tag'},g,'('+id+')');
  
  

  const lines = panelTitles[idx];
  lines.forEach(function(line,i){
    const t = make('text',{x:left+MAP_W/2,y:top-16.5-(lines.length-1-i)*20.5,'text-anchor':'middle','class':'title'},g,line);
    
    
  });

  const field = make('g',{'clip-path':'url(#clip-'+id+')','shape-rendering':'crispEdges'},g);
  
  
  const grid = panelGrids[idx];
  latRows.forEach(function(lat,r){
    lonCols.forEach(function(lon,c){
      const v = grid[r][c];
      if (v===null || v===undefined) return;
      const x0 = Math.round(xs(lon-5)), x1 = Math.round(xs(lon+5));
      const y0 = Math.round(ys(lat+5)), y1 = Math.round(ys(lat-5));
      const cell = make('rect',{x:x0,y:y0,width:x1-x0,height:y1-y0,fill:colorFor(kind,v)},field);
      
      
    });
  });
  panelFine[idx].forEach(function(p){
    const cell = make('rect',{x:xs(p[0]-2.5),y:ys(p[1]+2),width:xs(5)-xs(0),height:ys(0)-ys(4),fill:colorFor(kind,p[2])},field);
    
    
  });
  missingCells.forEach(function(p){
    const cell = make('rect',{x:xs(p[0]-2),y:ys(p[1]+1.4),width:xs(4)-xs(0),height:ys(0)-ys(2.8),fill:'#ffffff'},field);
    
    
  });

  const gridLines = make('g',{stroke:'#808080','stroke-opacity':'0.28','stroke-width':'1.3'},g);
  
  
  lonTicks.slice(1,-1).forEach(function(lon){
    const l = make('line',{x1:xs(lon),x2:xs(lon),y1:top,y2:top+MAP_H},gridLines);
    
    
  });
  latTicks.slice(1).forEach(function(lat){
    const l = make('line',{x1:left,x2:left+MAP_W,y1:ys(lat),y2:ys(lat)},gridLines);
    
    
  });

  const coast = make('path',{d:coastlines.map(p=>linePath(p,xs,ys)).join(''),fill:'none',stroke:'#000','stroke-width':'1.3','stroke-linejoin':'round'},g);
  
  
  const bord = make('path',{d:borders.map(p=>linePath(p,xs,ys)).join(''),fill:'none',stroke:'#000','stroke-width':'1.1','stroke-linejoin':'round'},g);
  
  

  const frame = make('rect',{x:left,y:top,width:MAP_W,height:MAP_H,fill:'none',stroke:'#444','stroke-width':'1.5'},g);
  
  

  lonTicks.forEach(function(lon,i){
    const t = make('text',{x:xs(lon),y:top+MAP_H+21,'text-anchor':'middle','class':'tick'},g,lonTickLabels[i]);
    
    
  });
  latTicks.forEach(function(lat,i){
    const t = make('text',{x:left-7,y:ys(lat)+5.5,'text-anchor':'end','class':'tick'},g,latTickLabels[i]);
    
    
  });

  // colour bar
  const barTop = top+MAP_H+32, barH = 28;
  const bar = make('g',{},g);
  
  
  let tickVals, tickLabs, cx;
  if (kind==='co') {
    const cbL = left, cbR = left+496;
    cx = v => cbL+(v/7)*(cbR-cbL);
    coColors.forEach(function(col,i){
      const s = make('rect',{x:cx(coLevels[i]/10),y:barTop,width:cx(coLevels[i+1]/10)-cx(coLevels[i]/10)+0.4,height:barH,fill:col},bar);
      
      
    });
    const tri = make('polygon',{points:cbR+','+barTop+' '+(left+MAP_W+1)+','+(barTop+barH/2)+' '+cbR+','+(barTop+barH),fill:'#c8c8c8',stroke:'#333','stroke-width':'1'},bar);
    
    
    const box = make('rect',{x:cbL,y:barTop,width:cbR-cbL,height:barH,fill:'none',stroke:'#333','stroke-width':'1'},bar);
    
    
    tickVals = coTicks; tickLabs = coTickLabels;
  } else {
    const range = kind==='diff'?1.5:1, bins = kind==='diff'?30:20;
    const mid = left+MAP_W/2;
    cx = v => mid+(v/range)*228;
    for (let i=0;i<bins;i++){
      const a = -range+i*2*range/bins, b = a+2*range/bins;
      const s = make('rect',{x:cx(a),y:barTop,width:cx(b)-cx(a)+0.4,height:barH,fill:rdbu((a+b)/2/range)},bar);
      
      
    }
    const triL = make('polygon',{points:cx(-range)+','+barTop+' '+left+','+(barTop+barH/2)+' '+cx(-range)+','+(barTop+barH),fill:'#053061',stroke:'#333','stroke-width':'1'},bar);
    
    
    const triR = make('polygon',{points:cx(range)+','+barTop+' '+(left+MAP_W+1)+','+(barTop+barH/2)+' '+cx(range)+','+(barTop+barH),fill:'#67001f',stroke:'#333','stroke-width':'1'},bar);
    
    
    const box = make('rect',{x:cx(-range),y:barTop,width:cx(range)-cx(-range),height:barH,fill:'none',stroke:'#333','stroke-width':'1'},bar);
    
    
    tickVals = kind==='diff'?diffTicks:skillTicks;
    tickLabs = kind==='diff'?diffTickLabels:skillTickLabels;
  }
  tickVals.forEach(function(v,i){
    const l = make('line',{x1:cx(v),x2:cx(v),y1:barTop+barH,y2:barTop+barH+7,stroke:'#333','stroke-width':'1'},bar);
    
    
    const t = make('text',{x:cx(v),y:barTop+barH+24,'text-anchor':'middle','class':'tick'},bar,tickLabs[i]);
    
    
  });
  if (kind!=='skill') {
    const u = make('text',{x:left+MAP_W/2,y:barTop+barH+48,'text-anchor':'middle','class':'unit'},bar);
    
    
    make('tspan',{},u,(kind==='diff'?'Δ':'')+'10');
    make('tspan',{dy:'-6','class':'sup'},u,'18');
    make('tspan',{dy:'6'},u,' mol/cm');
    make('tspan',{dy:'-6','class':'sup'},u,'2');
  }
});
</script>
</body>
</html>
